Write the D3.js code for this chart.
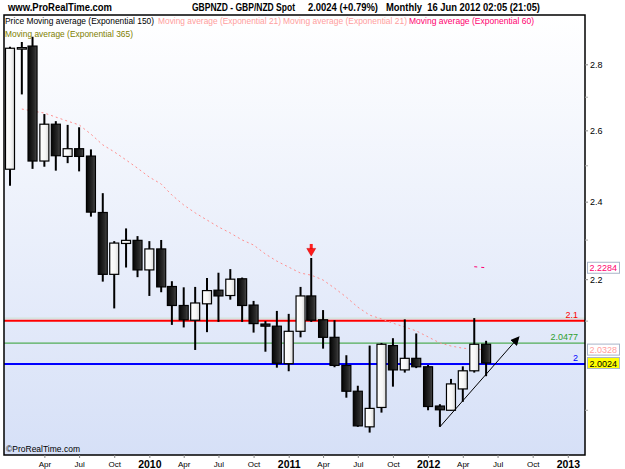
<!DOCTYPE html>
<html>
<head>
<meta charset="utf-8">
<script src="https://cdn.jsdelivr.net/npm/d3@7"></script>
<style>
  body { margin: 0; background: #fff; }
  svg { display: block; font-family: "Liberation Sans", Arial, sans-serif; }
</style>
</head>
<body>
<div id="chart"></div>
<script>
// monthly GBP/NZD candles, Jan 2009 .. Jun 2012
const months = ["2009-01","2009-02","2009-03","2009-04","2009-05","2009-06","2009-07","2009-08","2009-09","2009-10","2009-11","2009-12",
  "2010-01","2010-02","2010-03","2010-04","2010-05","2010-06","2010-07","2010-08","2010-09","2010-10","2010-11","2010-12",
  "2011-01","2011-02","2011-03","2011-04","2011-05","2011-06","2011-07","2011-08","2011-09","2011-10","2011-11","2011-12",
  "2012-01","2012-02","2012-03","2012-04","2012-05","2012-06"];
const open  = [2.489,2.852,2.858,2.512,2.618,2.525,2.547,2.526,2.371,2.212,2.290,2.298,2.223,2.276,2.182,2.136,2.101,2.140,2.173,2.160,2.201,2.137,2.092,2.087,2.001,2.075,2.159,2.102,2.061,1.997,1.940,1.864,1.905,2.042,1.987,2.013,1.994,1.908,1.899,1.945,1.985,2.045];
const high  = [2.856,2.871,2.888,2.648,2.627,2.616,2.609,2.545,2.423,2.296,2.329,2.309,2.296,2.299,2.195,2.180,2.181,2.203,2.216,2.225,2.204,2.147,2.099,2.123,2.116,2.181,2.253,2.125,2.101,2.020,1.952,2.042,2.048,2.059,2.103,2.070,1.998,1.912,1.967,1.995,2.106,2.053];
const low   = [2.443,2.707,2.490,2.496,2.485,2.506,2.483,2.360,2.194,2.129,2.229,2.205,2.159,2.168,2.090,2.084,2.032,2.073,2.097,2.150,2.097,2.072,2.028,1.992,1.984,2.061,2.097,2.035,1.993,1.926,1.864,1.852,1.894,1.950,1.981,1.991,1.899,1.864,1.898,1.917,1.981,1.973];
const close = [2.851,2.853,2.512,2.618,2.527,2.547,2.525,2.372,2.212,2.291,2.298,2.223,2.276,2.181,2.136,2.102,2.142,2.172,2.159,2.200,2.136,2.093,2.087,2.002,2.075,2.159,2.101,2.061,1.997,1.940,1.866,1.903,2.045,1.987,2.013,1.994,1.907,1.900,1.956,1.985,2.045,2.0024];
// exponential moving averages
const ema21 = [null,2.663,2.657,2.651,2.639,2.627,2.616,2.589,2.558,2.538,2.515,2.492,2.467,2.448,2.418,2.391,2.370,2.351,2.333,2.317,2.299,2.286,2.263,2.245,2.230,2.215,2.210,2.198,2.178,2.156,2.132,2.113,2.104,2.094,2.085,2.076,2.062,2.048,2.041,2.036,2.034,2.0328];
const ema60 = [null,null,null,null,null,null,null,null,null,null,null,null,null,null,null,null,null,null,null,null,null,null,null,null,null,null,null,null,null,null,null,null,null,null,null,null,null,null,null,null,2.231,2.2284];

// horizontal levels
const levels = [
  {value: 2.1, label: "2.1", color: "#ff0000", width: 2},
  {value: 2.0477, label: "2.0477", color: "#2e9e2e", width: 1},
  {value: 2.0, label: "2", color: "#0000ff", width: 2}
];
// price boxes on the right axis
const priceTags = [
  {value: 2.2284, label: "2.2284", color: "#ff0070", fill: "#ffffff"},
  {value: 2.0328, label: "2.0328", color: "#ffa0a0", fill: "#ffffff"},
  {value: 2.0024, label: "2.0024", color: "#000000", fill: "#ffff00"}
];
const yMajor = [2.2, 2.4, 2.6, 2.8];
const yMinor = [1.9, 2.1, 2.3, 2.5, 2.7];
const xTicks = ["2009-04","2009-07","2009-10","2010-01","2010-04","2010-07","2010-10","2011-01",
  "2011-04","2011-07","2011-10","2012-01","2012-04","2012-07","2012-10","2013-01"];
const trend = [{date: "2012-02-01", value: 1.864}, {date: "2012-08-26", value: 2.062}];
const signal = {date: "2011-03", value: 2.253};

const legendItems = [
  {text: "Price Moving average (Exponential 150)", color: "#000000", x: 5, y: 24, w: 149},
  {text: "Moving average (Exponential 21)", color: "#ff9e9e", x: 158, y: 24, w: 123},
  {text: "Moving average (Exponential 21)", color: "#ff9e9e", x: 283, y: 24, w: 124},
  {text: "Moving average (Exponential 60)", color: "#ff0070", x: 409, y: 24, w: 125},
  {text: "Moving average (Exponential 365)", color: "#808000", x: 5, y: 37, w: 128}
];
const headerItems = [
  {text: "www.ProRealTime.com", x: 8, w: 104},
  {text: "GBPNZD - GBP/NZD Spot", x: 192, w: 103},
  {text: "2.0024 (+0.79%)", x: 308, w: 70},
  {text: "Monthly  16 Jun 2012 02:05 (21:05)", x: 386, w: 154}
];

const W = 625, H = 469;
const plot = {left: 4, top: 15, right: 585, bottom: 455};
const parseM = d3.timeParse("%Y-%m");
const parseD = d3.timeParse("%Y-%m-%d");

const candles = months.map((m, i) => ({date: parseM(m), o: open[i], h: high[i], l: low[i], c: close[i]}));

const x = d3.scaleTime()
  .domain([parseM("2009-01"), parseM("2013-01")])
  .range([10, 567.8]);
const y = d3.scaleLog()
  .domain([1.806, 2.9594])
  .range([plot.bottom, plot.top]);

const svg = d3.select("#chart").append("svg")
  .attr("width", W).attr("height", H);

const defs = svg.append("defs");
const bg = defs.append("linearGradient").attr("id", "bg").attr("x1", 0).attr("y1", 0).attr("x2", 0).attr("y2", 1);
bg.append("stop").attr("offset", "0%").attr("stop-color", "#ffffff");
bg.append("stop").attr("offset", "100%").attr("stop-color", "#d6e0f7");
const gDown = defs.append("linearGradient").attr("id", "down");
gDown.append("stop").attr("offset", "0%").attr("stop-color", "#050505");
gDown.append("stop").attr("offset", "70%").attr("stop-color", "#2a2a2a");
gDown.append("stop").attr("offset", "100%").attr("stop-color", "#4a4a4a");
const gUp = defs.append("linearGradient").attr("id", "up");
gUp.append("stop").attr("offset", "0%").attr("stop-color", "#ffffff");
gUp.append("stop").attr("offset", "60%").attr("stop-color", "#f6f6f6");
gUp.append("stop").attr("offset", "100%").attr("stop-color", "#d8d8d8");
defs.append("marker").attr("id", "arrow")
  .attr("viewBox", "0 0 10 10").attr("refX", 9).attr("refY", 5)
  .attr("markerWidth", 9).attr("markerHeight", 9).attr("orient", "auto")
  .attr("markerUnits", "userSpaceOnUse")
  .append("path").attr("d", "M0,0 L10,5 L0,10 z").attr("fill", "#000");
defs.append("clipPath").attr("id", "clip").append("rect")
  .attr("x", plot.left).attr("y", plot.top)
  .attr("width", plot.right - plot.left).attr("height", plot.bottom - plot.top);

// plot background
svg.append("rect")
  .attr("x", plot.left).attr("y", plot.top)
  .attr("width", plot.right - plot.left).attr("height", plot.bottom - plot.top)
  .attr("fill", "url(#bg)");

const g = svg.append("g").attr("clip-path", "url(#clip)");

// horizontal level lines
levels.forEach(d => {
  if (d.value === 2.1) {
    g.append("line")
      .attr("x1", plot.left).attr("x2", plot.right)
      .attr("y1", y(d.value) - 2.5).attr("y2", y(d.value) - 2.5)
      .attr("stroke", "#cfe0cf").attr("stroke-width", 1);
  }
  g.append("line")
    .attr("x1", plot.left).attr("x2", plot.right)
    .attr("y1", y(d.value)).attr("y2", y(d.value))
    .attr("stroke", d.color).attr("stroke-width", d.width);
  g.append("text")
    .attr("x", 578).attr("y", y(d.value) - 3)
    .attr("text-anchor", "end")
    .attr("font-size", 9)
    .attr("fill", d.color)
    .text(d.label);
});

// moving averages
const maLine = d3.line()
  .defined(d => d.v != null)
  .x(d => x(d.date)).y(d => y(d.v));
g.append("path")
  .datum(candles.map((c, i) => ({date: c.date, v: ema21[i]})))
  .attr("d", maLine)
  .attr("fill", "none").attr("stroke", "#ff9090")
  .attr("stroke-width", 1).attr("stroke-dasharray", "2,3");
g.append("path")
  .datum(candles.map((c, i) => ({date: c.date, v: ema60[i]})))
  .attr("d", maLine)
  .attr("fill", "none").attr("stroke", "#ff0070")
  .attr("stroke-width", 1).attr("stroke-dasharray", "3,4");

// candles
const bw = 9;
const cg = g.selectAll(".candle").data(candles).enter().append("g").attr("class", "candle");
cg.append("line")
  .attr("x1", d => x(d.date)).attr("x2", d => x(d.date))
  .attr("y1", d => y(d.h)).attr("y2", d => y(d.l))
  .attr("stroke", "#000").attr("stroke-width", 2);
cg.append("rect")
  .attr("x", d => x(d.date) - bw / 2)
  .attr("y", d => y(Math.max(d.o, d.c)))
  .attr("width", bw)
  .attr("height", d => Math.max(1.5, y(Math.min(d.o, d.c)) - y(Math.max(d.o, d.c))))
  .attr("fill", d => d.c >= d.o ? "url(#up)" : "url(#down)")
  .attr("stroke", "#000").attr("stroke-width", 1.2);

// trend line with arrow
g.append("line")
  .attr("x1", x(parseD(trend[0].date))).attr("y1", y(trend[0].value))
  .attr("x2", x(parseD(trend[1].date))).attr("y2", y(trend[1].value))
  .attr("stroke", "#000").attr("stroke-width", 1)
  .attr("marker-end", "url(#arrow)");

// red signal arrow above the high
const sx = x(parseM(signal.date)), sy = y(signal.value);
g.append("rect")
  .attr("x", sx - 1.5).attr("y", sy - 14).attr("width", 3).attr("height", 5)
  .attr("fill", "#ff2020");
g.append("path")
  .attr("d", d3.symbol(d3.symbolTriangle, 34)())
  .attr("transform", `translate(${sx},${sy - 7}) rotate(180)`)
  .attr("fill", "#ff1a1a").attr("stroke", "#cc0000").attr("stroke-width", 0.5);

// copyright
svg.append("text").attr("x", 6).attr("y", 452)
  .attr("font-size", 8.5).attr("fill", "#000").text("\u00a9ProRealTime.com");

// legend
svg.selectAll(".legend").data(legendItems).enter().append("text")
  .attr("class", "legend")
  .attr("x", d => d.x).attr("y", d => d.y)
  .attr("font-size", 9)
  .attr("textLength", d => d.w).attr("lengthAdjust", "spacingAndGlyphs")
  .attr("fill", d => d.color)
  .text(d => d.text);

// header
svg.selectAll(".header").data(headerItems).enter().append("text")
  .attr("class", "header")
  .attr("x", d => d.x).attr("y", 11)
  .attr("font-size", 10).attr("font-weight", "bold")
  .attr("textLength", d => d.w).attr("lengthAdjust", "spacingAndGlyphs")
  .attr("xml:space", "preserve")
  .text(d => d.text);

// frame
svg.append("rect")
  .attr("x", plot.left).attr("y", plot.top)
  .attr("width", plot.right - plot.left).attr("height", plot.bottom - plot.top)
  .attr("fill", "none").attr("stroke", "#000").attr("stroke-width", 1.5);

// right axis
const yAxis = svg.append("g").attr("transform", `translate(${plot.right},0)`)
  .call(d3.axisRight(y).tickValues(yMajor).tickFormat(d3.format(".1f")).tickSize(3).tickPadding(2));
yAxis.select(".domain").remove();
yAxis.selectAll("line").attr("stroke", "#888");
yAxis.selectAll("text").attr("font-size", 9).attr("font-family", "Liberation Sans, Arial, sans-serif").attr("fill", "#000");
const yMinorAxis = svg.append("g").attr("transform", `translate(${plot.right},0)`)
  .call(d3.axisRight(y).tickValues(yMinor).tickFormat("").tickSize(3));
yMinorAxis.select(".domain").remove();
yMinorAxis.selectAll("line").attr("stroke", "#aaa");

// right price tags
priceTags.forEach(d => {
  const ty = y(d.value);
  svg.append("rect")
    .attr("x", 587.5).attr("y", ty - 5.5).attr("width", 32).attr("height", 11)
    .attr("fill", d.fill).attr("stroke", "#a8b4c8").attr("stroke-width", 1);
  svg.append("text")
    .attr("x", 589.5).attr("y", ty + 3.5)
    .attr("font-size", 9).attr("fill", d.color).text(d.label);
});

// bottom axis
const xAxis = svg.append("g").attr("transform", `translate(0,${plot.bottom})`)
  .call(d3.axisBottom(x).tickValues(xTicks.map(parseM)).tickSize(3).tickPadding(3)
    .tickFormat(d => d.getMonth() === 0 ? d3.timeFormat("%Y")(d) : d3.timeFormat("%b")(d)));
xAxis.select(".domain").remove();
xAxis.selectAll("line").attr("stroke", "#888");
xAxis.selectAll("text")
  .attr("font-family", "Liberation Sans, Arial, sans-serif")
  .attr("fill", "#000")
  .attr("font-size", d => d.getMonth() === 0 ? 10.5 : 8)
  .attr("font-weight", d => d.getMonth() === 0 ? "bold" : "normal");
</script>
</body>
</html>
